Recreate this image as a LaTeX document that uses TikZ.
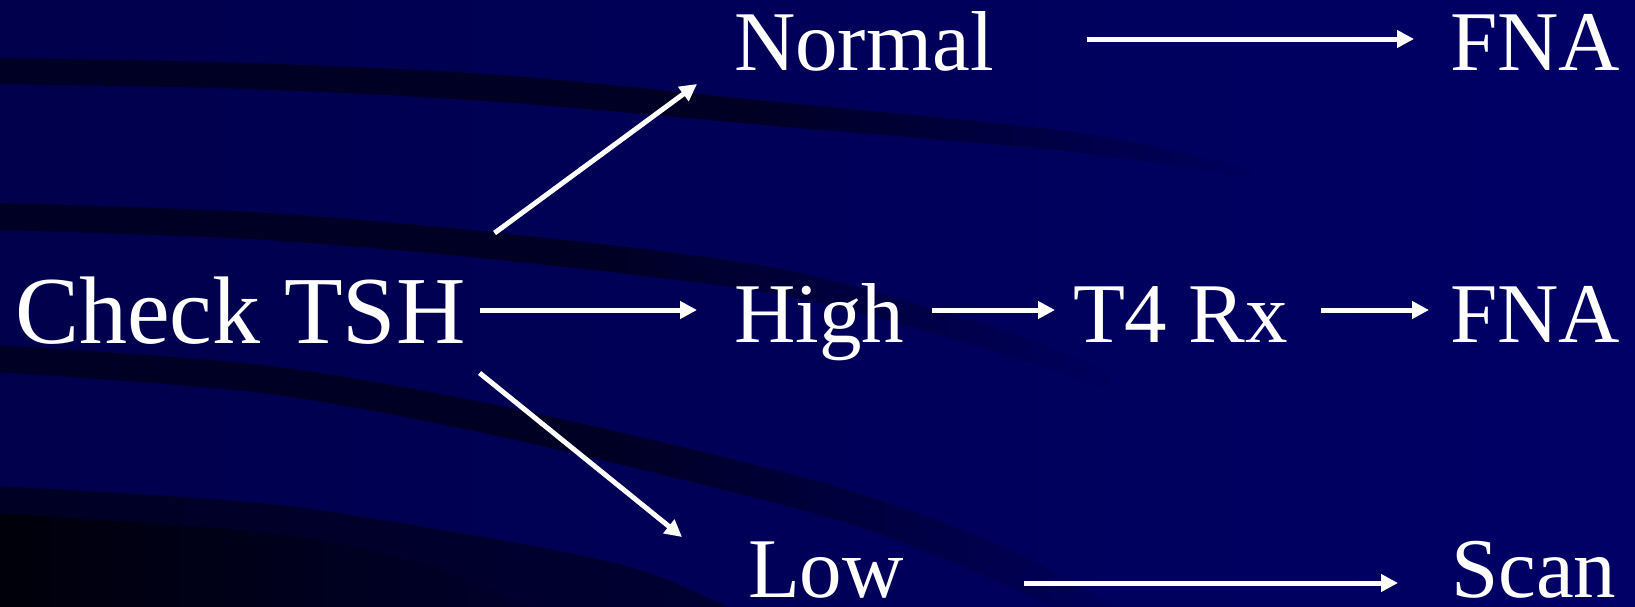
\documentclass[tikz,border=0pt]{standalone}
\usepackage{fontspec}
\setmainfont{Liberation Serif}
\usetikzlibrary{arrows.meta}
\definecolor{bgL}{RGB}{0,0,76}
\definecolor{bgR}{RGB}{0,0,102}
\definecolor{bandc}{RGB}{0,0,36}
\definecolor{bandend}{RGB}{0,0,92}
\definecolor{bandfour}{RGB}{0,0,50}
\definecolor{deep}{RGB}{0,0,10}
\definecolor{deepend}{RGB}{0,0,45}
\pgfdeclarehorizontalshading{bandfadeA}{100bp}{color(0bp)=(bandc); color(25bp)=(bandc); color(55bp)=(bandc); color(75bp)=(bandend); color(100bp)=(bandend)}
\pgfdeclarehorizontalshading{bandfadeB}{100bp}{color(0bp)=(bandc); color(25bp)=(bandc); color(52bp)=(bandc); color(75bp)=(bandend); color(100bp)=(bandend)}
\tikzset{
  arr/.style={draw=white, line width=5pt, -{Triangle[length=17pt,width=17pt]}},
  lbl/.style={text=white, inner sep=0pt, outer sep=0pt, anchor=base west, text depth=0pt,
              font=\fontsize{85}{90}\selectfont},
  big/.style={font=\fontsize{96}{100}\selectfont}
}
\begin{document}
\begin{tikzpicture}[x=1pt,y=-1pt]
\useasboundingbox (0,0) rectangle (1635,606);
\begin{scope}
\clip (0,0) rectangle (1635,606);
\fill[left color=bgL, right color=bgR] (0,0) rectangle (1635,606);
% band 1
\shade[shading=bandfadeA]
  plot[smooth] coordinates {(-5,58) (250,63) (500,75) (787,103) (1074,132) (1250,168)}
  -- plot[smooth] coordinates {(1250,178) (1074,152) (787,127) (500,102) (250,89) (-5,84)} -- cycle;
% band 2
\shade[shading=bandfadeB]
  plot[smooth] coordinates {(-5,203) (250,212) (500,233) (787,270) (1017,335) (1110,375)}
  -- plot[smooth] coordinates {(1110,392) (1017,358) (787,296) (500,260) (250,239) (-5,230)} -- cycle;
% band 3
\shade[shading=bandfadeB]
  plot[smooth] coordinates {(-5,345) (270,366) (520,410) (820,482) (1000,545) (1130,615)}
  -- plot[smooth] coordinates {(1070,615) (960,565) (820,515) (520,441) (270,394) (-5,372)} -- cycle;
% band 4
\shade[left color=bandc, right color=bandfour]
  plot[smooth] coordinates {(-5,486) (270,504) (500,540) (640,570) (745,615)}
  -- plot[smooth] coordinates {(555,615) (420,563) (270,533) (-5,513)} -- cycle;
% deep corner
\shade[left color=deep, right color=deepend]
  plot[smooth] coordinates {(-5,513) (270,533) (420,563) (555,615)}
  -- (-5,615) -- cycle;
\end{scope}

\node[lbl, big, text height=66pt] (check) at (15,343) {Check TSH};
\node[lbl, text height=63pt] (normal) at (734,70.5) {Normal};
\node[lbl, text height=63pt] (fnaA) at (1450,70.5) {FNA};
\node[lbl, text height=65pt] (high) at (734,342.5) {High};
\node[lbl, text height=65pt] (trx) at (1073,342.5) {T4 Rx};
\node[lbl, text height=65pt] (fnaB) at (1450,342.5) {FNA};
\node[lbl, text height=29pt] (low) at (748,597.5) {Low};
\node[lbl, text height=29pt] (scan) at (1451,597.5) {Scan};

\draw[arr] ([xshift=29pt,yshift=44pt]check.north east) -- ([xshift=-37pt,yshift=-13.5pt]normal.south west);
\draw[arr] ([xshift=14pt]check.east) -- ([xshift=-37pt]high.west);
\draw[arr] ([xshift=14pt,yshift=-30pt]check.south east) -- ([xshift=-66pt,yshift=31.5pt]low.north west);
\draw[arr] ([xshift=93pt]normal.east) -- ([xshift=-36pt]fnaA.west);
\draw[arr] ([xshift=28pt]high.east) -- ([xshift=-18pt]trx.west);
\draw[arr] ([xshift=33pt]trx.east) -- ([xshift=-21pt]fnaB.west);
\draw[arr] ([xshift=120pt]low.east) -- ([xshift=-53pt]scan.west);
\end{tikzpicture}
\end{document}
